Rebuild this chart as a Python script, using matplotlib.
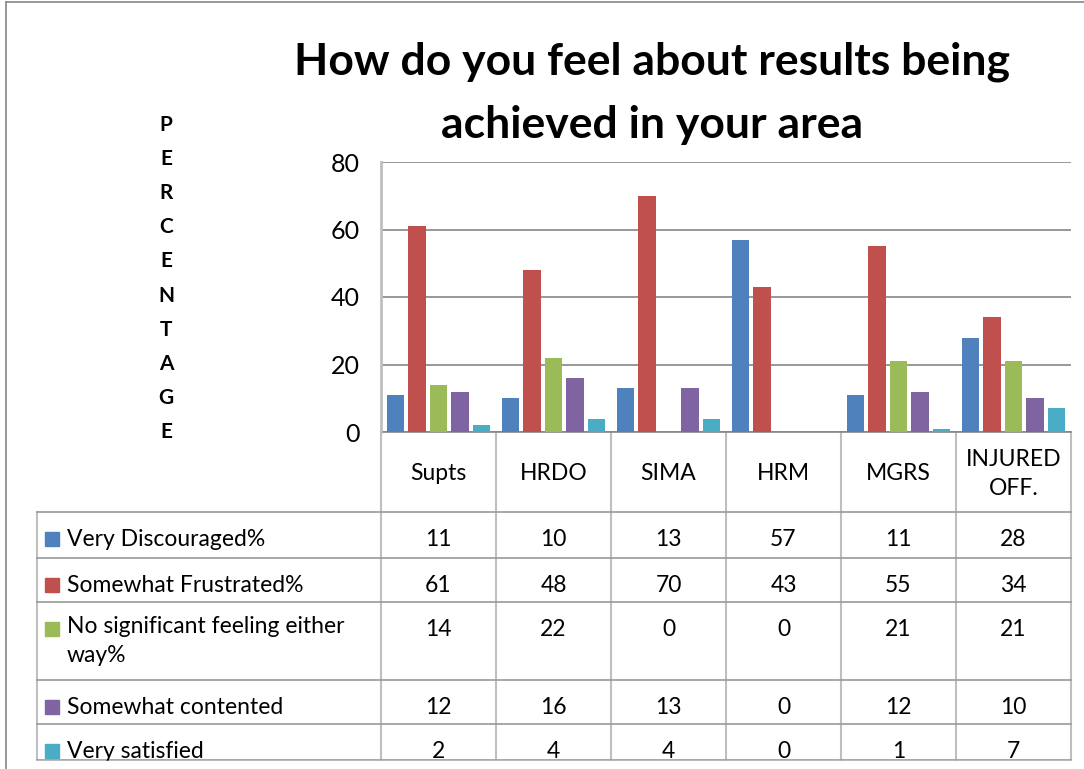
import matplotlib.pyplot as plt
import matplotlib.transforms as mtransforms
from matplotlib.patches import Rectangle
import numpy as np

plt.rcParams['font.family'] = ['Lato', 'DejaVu Sans']

categories = ["Supts", "HRDO", "SIMA", "HRM", "MGRS", "INJURED\nOFF."]
series_names = ["Very Discouraged%", "Somewhat Frustrated%",
                "No significant feeling either\nway%", "Somewhat contented",
                "Very satisfied"]
very_discouraged = [11, 10, 13, 57, 11, 28]
somewhat_frustrated = [61, 48, 70, 43, 55, 34]
no_feeling = [14, 22, 0, 0, 21, 21]
somewhat_contented = [12, 16, 13, 0, 12, 10]
very_satisfied = [2, 4, 4, 0, 1, 7]
yticks = [0, 20, 40, 60, 80]

series = [very_discouraged, somewhat_frustrated, no_feeling,
          somewhat_contented, very_satisfied]
colors = ["#4F81BD", "#C0504D", "#9BBB59", "#8064A2", "#4BACC6"]

W, H = 1084, 769
fig = plt.figure(figsize=(W / 100, H / 100), dpi=100)

# canvas axes in pixel coordinates for frame, labels and table
cv = fig.add_axes([0, 0, 1, 1])
cv.set_xlim(0, W)
cv.set_ylim(H, 0)
cv.axis("off")

# plot area
left, top, right, bottom = 381, 162, 1071, 432
ax = fig.add_axes([left / W, 1 - bottom / H, (right - left) / W, (bottom - top) / H])
x = np.arange(len(categories))
step, width = 0.188, 0.152
for i, vals in enumerate(series):
    ax.bar(x + (i - 2) * step, vals, width=width, color=colors[i], zorder=3)
ax.set_xlim(-0.5, len(categories) - 0.5)
ax.set_ylim(0, 80)
ax.set_yticks(yticks)
ax.set_xticks([])
ax.yaxis.grid(True, color="#868686", lw=1.2, zorder=1)
ax.tick_params(axis="y", length=0, pad=15, labelsize=18)
for s in ["top", "right", "bottom"]:
    ax.spines[s].set_visible(False)
ax.spines["left"].set_color("#BFBFBF")
ax.spines["left"].set_linewidth(2)
ax.patch.set_alpha(0)

# outer frame
cv.plot([6, W], [2, 2], color="#868686", lw=1.2)
cv.plot([6, 6], [2, H], color="#868686", lw=1.2)

# title
cv.text(652, 62, "How do you feel about results being", ha="center", va="center",
        fontsize=32, fontweight="bold")
cv.text(652, 125, "achieved in your area", ha="center", va="center",
        fontsize=32, fontweight="bold")

# vertical axis title
for k, ch in enumerate("PERCENTAGE"):
    cv.text(166, 125 + k * 34.1, ch, ha="center", va="center", fontsize=15,
            fontweight="bold")

# data table
tr = mtransforms.blended_transform_factory(ax.transData, cv.transData)
row_lines = [512, 558, 602, 680, 724, 760]
for k in range(len(categories) + 1):
    cv.plot([k - 0.5, k - 0.5], [bottom, row_lines[-1]], color="#BFBFBF", lw=1.5,
            transform=tr)
cv.plot([37, 37], [row_lines[0], row_lines[-1]], color="#BFBFBF", lw=1.5)
for yl in row_lines:
    cv.plot([37, right], [yl, yl], color="#999999", lw=1.2)
cv.plot([left, right], [bottom, bottom], color="#868686", lw=1.2)

fs = 16.5
for j, cat in enumerate(categories):
    cv.text(j, 474, cat, ha="center", va="center", fontsize=fs,
            linespacing=1.5, transform=tr)

for i, (name, vals) in enumerate(zip(series_names, series)):
    ty = row_lines[i] + 27
    cv.add_patch(Rectangle((45, ty - 7), 14, 14, color=colors[i]))
    if "\n" in name:
        cv.text(67, ty - 13, name, ha="left", va="top", fontsize=fs, linespacing=1.45)
    else:
        cv.text(67, ty, name, ha="left", va="center", fontsize=fs)
    for j, v in enumerate(vals):
        cv.text(j, ty, str(v), ha="center", va="center", fontsize=fs, transform=tr)

# bottom crop
cv.add_patch(Rectangle((8, row_lines[-1] + 1), W, 20, color="white", zorder=10))

fig.savefig("out.png", dpi=100)
